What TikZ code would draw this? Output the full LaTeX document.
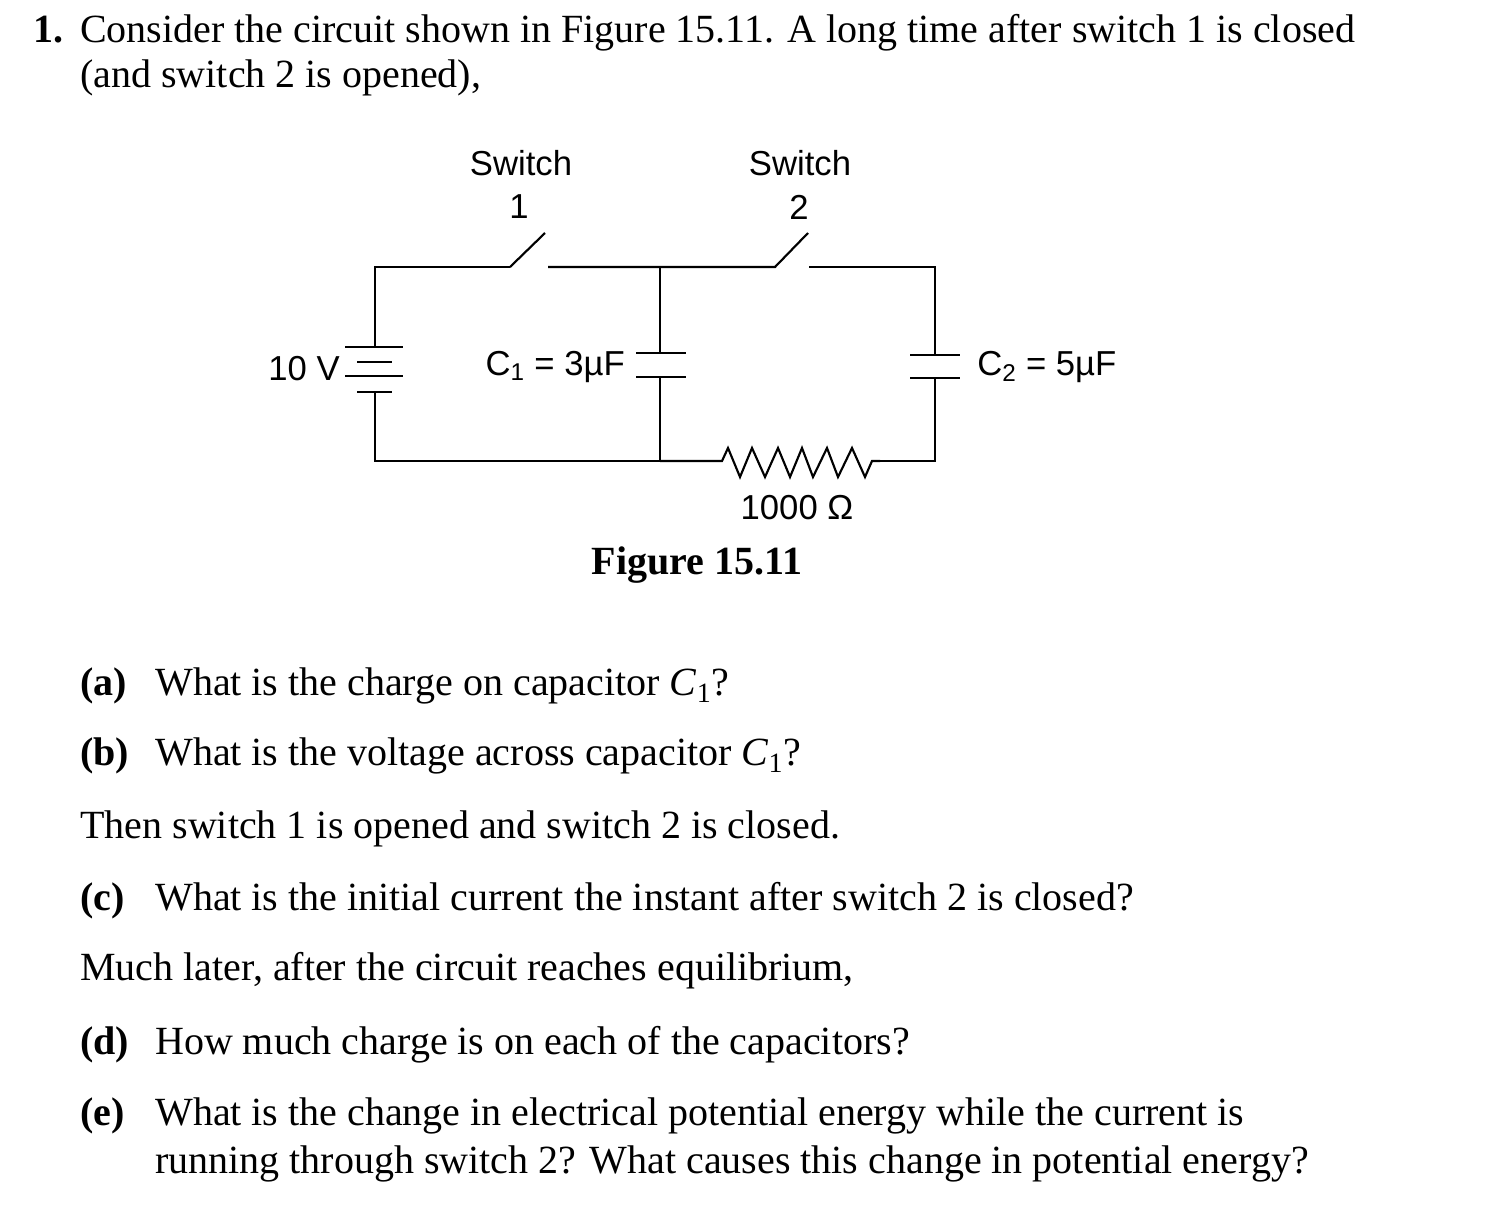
\documentclass[tikz,border=0pt]{standalone}
\usepackage{fontspec}
\setmainfont{Liberation Serif}
\newfontfamily\arial{Liberation Sans}
\newcommand{\qlab}[1]{\makebox[75\dimexpr0.75pt\relax][l]{\textbf{#1}}}
\begin{document}
\begin{tikzpicture}[x=0.75pt,y=-0.75pt,
  wire/.style={line width=1.6pt},
  txt/.style={font=\fontsize{30}{35}\selectfont,anchor=base west,inner sep=0},
  lab/.style={font=\arial\fontsize{26}{30}\selectfont,inner sep=0}]
\useasboundingbox (0,0) rectangle (1498,1231);
\coordinate (tl) at (375,267);
\coordinate (bl) at (375,461);
\coordinate (s1a) at (510,267);
\coordinate (s1b) at (545,233);
\coordinate (s1c) at (548,267);
\coordinate (c1t) at (660,267);
\coordinate (c1b) at (660,461);
\coordinate (s2a) at (775,267);
\coordinate (s2b) at (808,233);
\coordinate (s2c) at (809,267);
\coordinate (tr) at (935,267);
\coordinate (br) at (935,461);
\coordinate (r1) at (722,461);
\coordinate (r2) at (880,461);
\draw[wire] (s1a) -- (tl) -- (375,347);
\draw[wire] (345,347) -- (403,347);
\draw[wire] (357,362) -- (392,362);
\draw[wire] (345,376) -- (403,376);
\draw[wire] (357,392) -- (392,392);
\draw[wire] (375,392) -- (bl) -- (c1b);
\draw[wire] (s1a) -- (s1b);
\draw[wire] (s1c) -- (c1t) -- (s2a) -- (s2b);
\draw[wire] (c1t) -- (660,353);
\draw[wire] (636,353) -- (686,353);
\draw[wire] (636,377) -- (686,377);
\draw[wire] (660,377) -- (c1b);
\draw[wire] (s2c) -- (tr) -- (935,355);
\draw[wire] (910,355) -- (960,355);
\draw[wire] (910,378) -- (960,378);
\draw[wire] (935,378) -- (br) -- (r2);
\draw[wire,line join=miter] (c1b) -- (r1) -- (728,448) -- (740,477) -- (752,448) -- (765,477) -- (778,448) -- (790,477) -- (802,448) -- (813,477) -- (827,448) -- (838,477) -- (852,448) -- (865,477) -- (872,461) -- (r2);
\node[lab] (sw1) at (521,163) {Switch};
\node[lab] (sw1n) at (519,207) {1};
\node[lab] (sw2) at (800,163) {Switch};
\node[lab] (sw2n) at (799,207) {2};
\node[lab,anchor=east] (vb) at (340,369) {10 V};
\node[lab,anchor=east] (c1l) at (625,367) {C\textsubscript{1} = 3µF};
\node[lab,anchor=west] (c2l) at (977,367) {C\textsubscript{2} = 5µF};
\node[lab] (rl) at (797,508) {1000 Ω};
\node[font=\bfseries\fontsize{30}{35}\selectfont,inner sep=0] (fig) at (697,565) {Figure 15.11};
\node[txt] (l1) at (33,43) {\makebox[47\dimexpr0.75pt\relax][l]{\textbf{1.}}Consider the circuit shown in Figure 15.11. A long time after switch 1 is closed};
\node[txt] (l2) at (80,88) {(and switch 2 is opened),};
\node[txt] (qa) at (80,695) {\qlab{(a)}What is the charge on capacitor \textit{C}\textsubscript{1}?};
\node[txt] (qb) at (80,765) {\qlab{(b)}What is the voltage across capacitor \textit{C}\textsubscript{1}?};
\node[txt] (t1) at (80,838) {Then switch 1 is opened and switch 2 is closed.};
\node[txt] (qc) at (80,910) {\qlab{(c)}What is the initial current the instant after switch 2 is closed?};
\node[txt] (t2) at (80,980) {Much later, after the circuit reaches equilibrium,};
\node[txt] (qd) at (80,1054) {\qlab{(d)}How much charge is on each of the capacitors?};
\node[txt] (qe) at (80,1125) {\qlab{(e)}What is the change in electrical potential energy while the current is};
\node[txt] (qe2) at (155,1173) {running through switch 2? What causes this change in potential energy?};
\end{tikzpicture}
\end{document}
